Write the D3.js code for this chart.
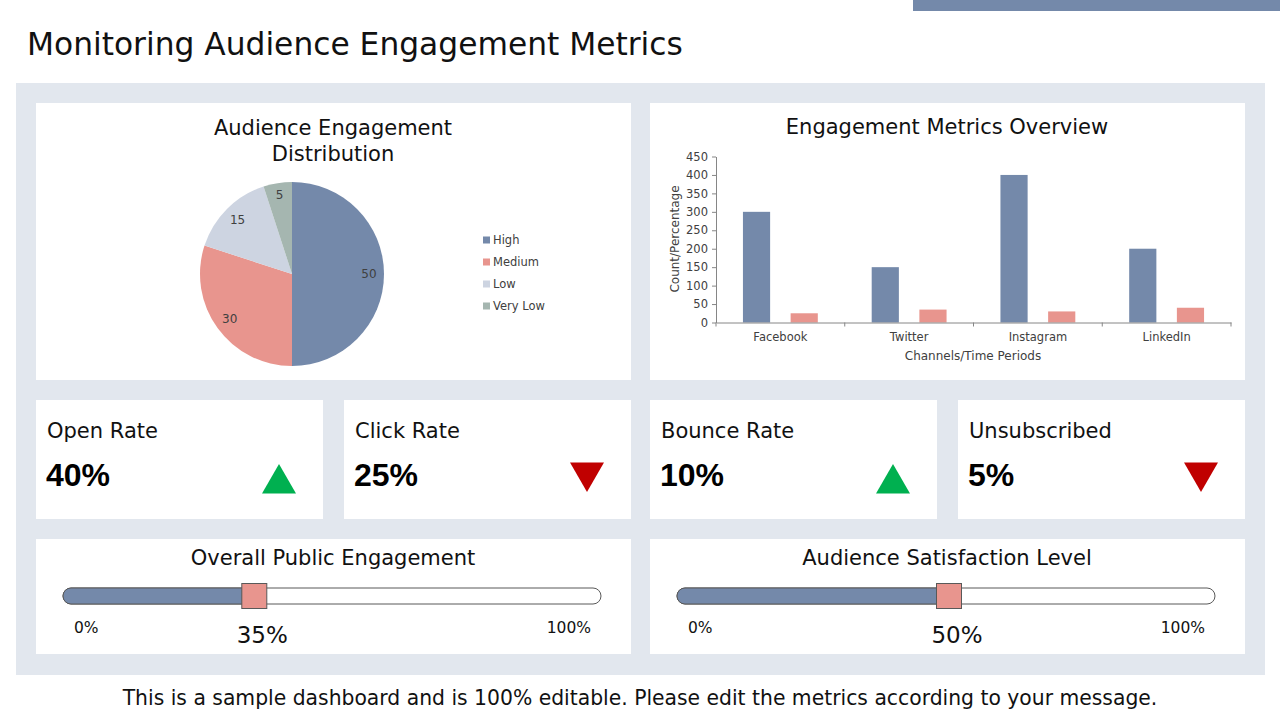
<!DOCTYPE html>
<html>
<head>
<meta charset="utf-8">
<script src="https://cdn.jsdelivr.net/npm/d3@7"></script>
<style>
	body { margin: 0; background: #ffffff; }
	svg { display: block; font-family: "DejaVu Sans", sans-serif; }
	.axis path, .axis line { stroke: #868686; }
	.axis text { font-family: "DejaVu Sans", sans-serif; font-size: 11.5px; fill: #404040; }
</style>
</head>
<body>
<svg id="chart" width="1280" height="720"></svg>
<script>
"use strict";

// ---- data ----
var pieCategories = ["High", "Medium", "Low", "Very Low"];
var pieValues = [50, 30, 15, 5];

var channels = ["Facebook", "Twitter", "Instagram", "LinkedIn"];
var countValues = [300, 150, 400, 200];
var percentValues = [25, 35, 30, 40];
var yTicks = [0, 50, 100, 150, 200, 250, 300, 350, 400, 450];

var kpiLabels = ["Open Rate", "Click Rate", "Bounce Rate", "Unsubscribed"];
var kpiValues = [40, 25, 10, 5];
var kpiTrend = ["up", "down", "up", "down"];

var gaugeLabels = ["Overall Public Engagement", "Audience Satisfaction Level"];
var gaugeValues = [35, 50];

// ---- colours ----
var blue = "#7489aa", salmon = "#e8958e";
var pieColors = [blue, salmon, "#cdd4e1", "#a5b6b0"];

var svg = d3.select("#chart");

function fitWidth(sel, w) {
	var len = sel.node().getComputedTextLength();
	var fs = parseFloat(sel.style("font-size"));
	sel.style("font-size", (fs * w / len) + "px");
} // end function fitWidth(...)

// top strip and title
svg.append("rect").attr("x", 913).attr("y", 0).attr("width", 367).attr("height", 11).attr("fill", blue);
var title = svg.append("text").attr("x", 27).attr("y", 55).style("font-size", "30px")
	.attr("fill", "#111").text("Monitoring Audience Engagement Metrics");
fitWidth(title, 656);

// background panel
svg.append("rect").attr("x", 16).attr("y", 83).attr("width", 1249).attr("height", 592).attr("fill", "#e2e7ee");

function card(x, y, w, h) {
	var g = svg.append("g").attr("transform", "translate(" + x + "," + y + ")");
	g.append("rect").attr("width", w).attr("height", h).attr("fill", "#fff");
	return g;
}

// ---- pie card ----
var pieCard = card(36, 103, 595, 277);
pieCard.append("text").attr("x", 297).attr("y", 32).attr("text-anchor", "middle")
	.style("font-size", "21px").attr("fill", "#111")
	.selectAll("tspan").data(["Audience Engagement", "Distribution"]).join("tspan")
	.attr("x", 297).attr("dy", function(d, i) { return i ? 26 : 0; }).text(function(d) { return d; });

var pie = d3.pie().sort(null).value(function(d) { return d; });
var arcs = pie(pieValues);
var arc = d3.arc().innerRadius(0).outerRadius(92);
var labelArc = d3.arc().innerRadius(77).outerRadius(77);
var pieG = pieCard.append("g").attr("transform", "translate(256,171)");
pieG.selectAll("path").data(arcs).join("path")
	.attr("d", arc).attr("fill", function(d, i) { return pieColors[i]; });
pieG.selectAll("text").data(arcs).join("text")
	.attr("transform", function(d) {
		var c = labelArc.centroid(d);
		if (d.data === 5) { c = d3.arc().innerRadius(80).outerRadius(80).centroid(d); }
		return "translate(" + c + ")";
	})
	.attr("text-anchor", "middle").attr("dy", "0.35em")
	.style("font-size", "12px").attr("fill", "#404040")
	.text(function(d) { return d.data; });

var legend = pieCard.append("g").attr("transform", "translate(447,137)");
var li = legend.selectAll("g").data(pieCategories).join("g")
	.attr("transform", function(d, i) { return "translate(0," + (i * 22) + ")"; });
li.append("rect").attr("x", 0).attr("y", -3.5).attr("width", 7).attr("height", 7)
	.attr("fill", function(d, i) { return pieColors[i]; });
li.append("text").attr("x", 10).attr("dy", "0.35em").style("font-size", "11.5px")
	.attr("fill", "#404040").text(function(d) { return d; });

// ---- bar card ----
var barCard = card(650, 103, 595, 277);
barCard.append("text").attr("x", 297).attr("y", 31).attr("text-anchor", "middle")
	.style("font-size", "21px").attr("fill", "#111").text("Engagement Metrics Overview");

var x0 = d3.scaleBand().domain(channels).range([716, 1231]);
var x1 = d3.scaleBand().domain([0, 1]).range([0, x0.bandwidth()]).paddingInner(0.43).paddingOuter(0.565);
var y = d3.scaleLinear().domain([0, 450]).range([322.5, 156.5]);

var plot = svg.append("g");
var groups = plot.selectAll("g.grp").data(channels).join("g").attr("class", "grp")
	.attr("transform", function(d) { return "translate(" + x0(d) + ",0)"; });
groups.selectAll("rect").data(function(d, i) { return [countValues[i], percentValues[i]]; }).join("rect")
	.attr("x", function(d, j) { return x1(j); })
	.attr("width", x1.bandwidth())
	.attr("y", function(d) { return y(d); })
	.attr("height", function(d) { return y(0) - y(d); })
	.attr("fill", function(d, j) { return j ? salmon : blue; });

plot.append("g").attr("class", "axis").attr("transform", "translate(716,0)")
	.call(d3.axisLeft(y).tickValues(yTicks).tickSize(4).tickSizeOuter(0).tickPadding(4));

var xAxis = plot.append("g").attr("class", "axis").attr("transform", "translate(0,322.5)")
	.call(d3.axisBottom(x0).tickSize(0).tickSizeOuter(0).tickPadding(10));
xAxis.selectAll("line.bound").data(channels.concat(["end"])).join("line").attr("class", "bound")
	.attr("x1", function(d) { return d === "end" ? x0.range()[1] : x0(d); })
	.attr("x2", function(d) { return d === "end" ? x0.range()[1] : x0(d); })
	.attr("y1", 0).attr("y2", 4);

plot.append("text").attr("transform", "translate(679,239) rotate(-90)")
	.attr("text-anchor", "middle").style("font-size", "12px").attr("fill", "#404040").text("Count/Percentage");
plot.append("text").attr("x", 973).attr("y", 360).attr("text-anchor", "middle")
	.style("font-size", "12px").attr("fill", "#404040").text("Channels/Time Periods");

// ---- KPI cards ----
var kpiX = [36, 344, 650, 958];
kpiLabels.forEach(function(lbl, i) {
	var g = card(kpiX[i], 400, 287, 119);
	g.append("text").attr("x", 11).attr("y", 38).style("font-size", "21px").attr("fill", "#111").text(lbl);
	g.append("text").attr("x", 10).attr("y", 86)
		.style("font-family", "'Liberation Sans', Arial, sans-serif").style("font-weight", "bold")
		.style("font-size", "32px").attr("fill", "#000").text(kpiValues[i] + "%");
	var up = kpiTrend[i] === "up";
	g.append("path").attr("d", d3.symbol(d3.symbolTriangle, 500)())
		.attr("transform", "translate(243," + (up ? 83.6 : 72.4) + ")" + (up ? "" : " rotate(180)"))
		.attr("fill", up ? "#00b050" : "#c00000");
});

// ---- gauges ----
var gaugeX = [36, 650];
gaugeLabels.forEach(function(lbl, i) {
	var g = card(gaugeX[i], 539, 595, 115);
	g.append("text").attr("x", 297).attr("y", 26).attr("text-anchor", "middle")
		.style("font-size", "21px").attr("fill", "#111").text(lbl);
	var gx = d3.scaleLinear().domain([0, 100]).range([27, 565]);
	g.append("rect").attr("x", gx(0)).attr("y", 49).attr("width", gx(100) - gx(0)).attr("height", 16)
		.attr("rx", 8).attr("fill", "#fff").attr("stroke", "#595959").attr("stroke-width", 1);
	g.append("rect").attr("x", gx(0)).attr("y", 49).attr("width", gx(gaugeValues[i]) + 3 - gx(0)).attr("height", 16)
		.attr("rx", 8).attr("fill", blue).attr("stroke", "#595959").attr("stroke-width", 1);
	g.append("rect").attr("x", gx(gaugeValues[i]) + 3 - 12.5).attr("y", 44.5).attr("width", 25).attr("height", 25)
		.attr("fill", salmon).attr("stroke", "#595959").attr("stroke-width", 1);
	g.append("text").attr("x", gx(0) + 11).attr("y", 94).style("font-size", "15.5px").attr("fill", "#111").text("0%");
	g.append("text").attr("x", gx(100) - 10).attr("y", 94).attr("text-anchor", "end")
		.style("font-size", "15.5px").attr("fill", "#111").text("100%");
	g.append("text").attr("x", gx(gaugeValues[i]) + 11).attr("y", 104).attr("text-anchor", "middle")
		.style("font-size", "23px").attr("fill", "#111").text(gaugeValues[i] + "%");
});

// footer
var foot = svg.append("text").attr("x", 640).attr("y", 705).attr("text-anchor", "middle")
	.style("font-size", "20px").attr("fill", "#111")
	.text("This is a sample dashboard and is 100% editable. Please edit the metrics according to your message.");
fitWidth(foot, 1035);
</script>
</body>
</html>
